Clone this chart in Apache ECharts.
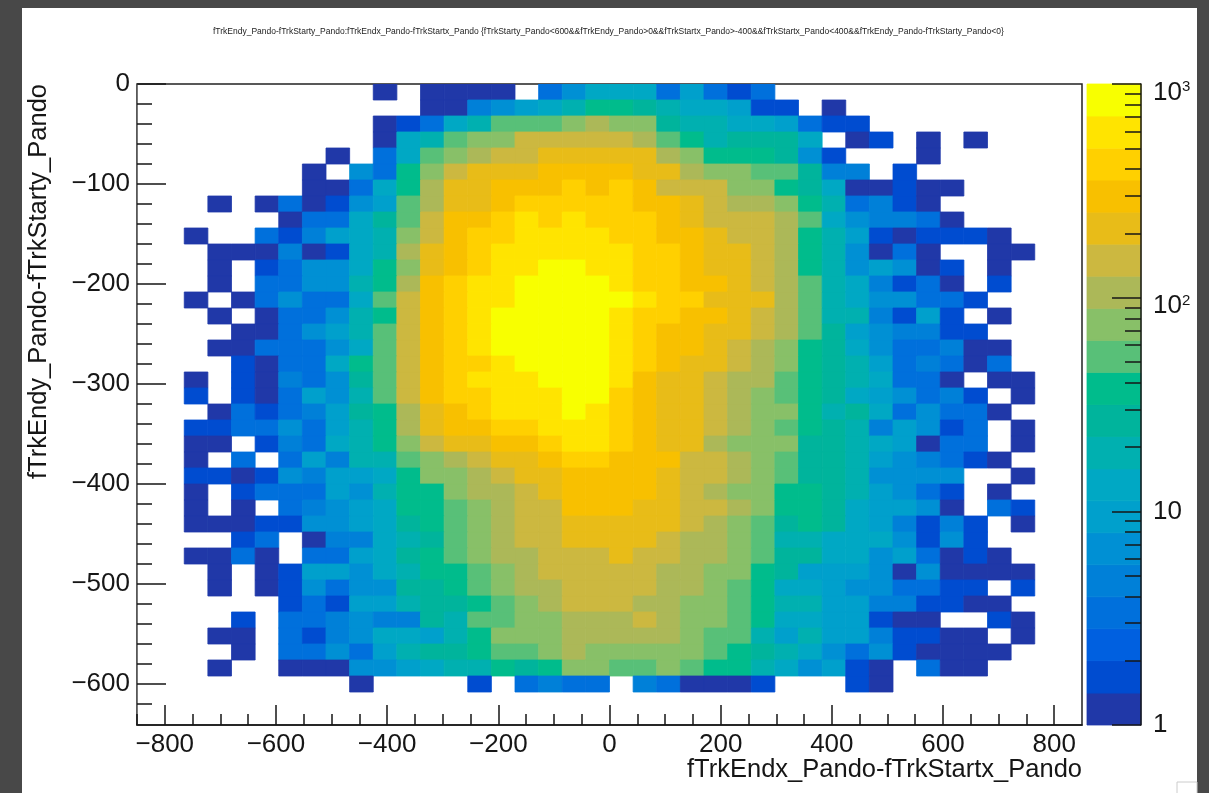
<!DOCTYPE html>
<html><head><meta charset="utf-8">
<style>html,body{margin:0;padding:0;background:#484848}#c{width:1209px;height:793px;filter:blur(0.5px)}</style>
<script src="https://cdn.jsdelivr.net/npm/echarts@6/dist/echarts.min.js"></script>
</head><body><div id="c"></div>
<script>
const chartTitle = "fTrkEndy_Pando-fTrkStarty_Pando:fTrkEndx_Pando-fTrkStartx_Pando {fTrkStarty_Pando<600&&fTrkEndy_Pando>0&&fTrkStartx_Pando>-400&&fTrkStartx_Pando<400&&fTrkEndy_Pando-fTrkStarty_Pando<0}";
const xTitle = "fTrkEndx_Pando-fTrkStartx_Pando";
const yTitle = "fTrkEndy_Pando-fTrkStarty_Pando";
const xMajor = [-800,-600,-400,-200,0,200,400,600,800];
const xMinor = [-850,-750,-700,-650,-550,-500,-450,-350,-300,-250,-150,-100,-50,50,100,150,250,300,350,450,500,550,650,700,750];
const yMajor = [0,-100,-200,-300,-400,-500,-600];
const yMinor = [-20,-40,-60,-80,-120,-140,-160,-180,-220,-240,-260,-280,-320,-340,-360,-380,-420,-440,-460,-480,-520,-540,-560,-580,-620];
const zMajor = [1,10,100,1000];
const zMinor = [2,3,4,5,6,7,8,9,20,30,40,50,60,70,80,90,200,300,400,500,600,700,800,900];
const contourEdges = [1,1.41,2,2.82,3.98,5.62,7.94,11.2,15.8,22.4,31.6,44.7,63.1,89.1,126,178,251,355,501,708,1000];
const palette = ['#2038a8','#004cd0','#0060e0','#0070dc','#0080d8','#0090d4','#00a0cc','#00a8c4','#00b0b0','#00b49c','#00bc8c','#58c078','#88c068','#acb858','#ccb840','#e8bc18','#f8c000','#ffd000','#ffe400','#f8ff00'];
const xFirstEdge = -850, xBinWidth = 42.5, yBinHeight = 16;

const row00=[0,0,0,0,0,0,0,0,0,0,1,0,1,1,1,1,0,3,7,13,13,13,3,9,3,1.7,3,0,0,0,0,0,0,0,0,0,0,0,0,0];
const row01=[0,0,0,0,0,0,0,0,0,0,0,0,1,1,5,7,9,13,19,38,38,27,19,13,13,9,1.7,1.7,0,1,0,0,0,0,0,0,0,0,0,0];
const row02=[0,0,0,0,0,0,0,0,0,0,1,1.7,3,13,19,53,53,53,75,106,75,75,27,19,19,13,13,9,3,1.7,1.7,0,0,0,0,0,0,0,0,0];
const row03=[0,0,0,0,0,0,0,0,0,0,1,13,19,53,75,75,150,150,150,150,150,106,53,38,19,27,27,27,13,0,1,1.7,0,1,0,1,0,0,0,0];
const row04=[0,0,0,0,0,0,0,0,1,0,3,13,53,75,106,150,150,211,211,211,211,211,106,75,38,38,38,27,7,1.7,0,0,0,1,0,0,0,0,0,0];
const row05=[0,0,0,0,0,0,0,1,0,7,3,38,75,150,211,211,211,299,299,299,299,211,211,106,75,75,53,53,27,5,5,0,1.7,0,0,0,0,0,0,0];
const row06=[0,0,0,0,0,0,0,1,1,3,13,38,106,211,211,299,299,299,422,299,422,299,150,150,150,75,75,38,27,13,1,1,1.7,1,1,0,0,0,0,0];
const row07=[0,0,0,1,0,1,3,1,1.7,7,9,53,106,211,211,299,422,422,422,422,422,299,299,211,150,106,106,75,38,19,3,5,1.7,1,0,0,0,0,0,0];
const row08=[0,0,0,0,0,0,1,3,3,13,27,53,150,299,299,422,596,422,596,422,422,422,299,211,150,150,150,106,53,13,7,5,5,3,1,0,0,0,0,0];
const row09=[0,0,1,0,0,3,1.7,5,9,13,19,75,150,299,422,422,596,596,596,596,422,422,299,299,211,150,150,106,38,19,9,1.7,1,1.7,1.7,1.7,1,0,0,0];
const row10=[0,0,0,1,1,1,5,1,1.7,13,19,106,211,299,422,596,596,596,596,596,596,422,422,299,211,211,150,106,38,19,7,1,3,1,0,0,1,1,0,0];
const row11=[0,0,0,1,0,1.7,3,7,7,13,38,75,211,299,422,596,596,840,840,596,596,422,422,299,211,211,150,106,38,19,7,9,7,1,1.7,0,1,0,0,0];
const row12=[0,0,0,1,0,3,3,7,7,19,38,106,299,422,596,596,840,840,840,840,596,422,422,299,299,211,150,106,53,19,13,5,1.7,3,1,0,1.7,0,0,0];
const row13=[0,0,1,0,1,3,7,3,3,13,53,150,299,422,596,596,840,840,840,840,840,596,422,422,211,211,211,106,53,19,13,7,7,3,3,1.7,0,0,0,0];
const row14=[0,0,0,1,0,1,3,3,7,19,38,150,299,422,596,840,840,840,840,840,596,422,422,299,299,211,150,106,53,19,19,5,1.7,9,1.7,0,1,0,0,0];
const row15=[0,0,0,0,1,1,3,7,9,19,53,150,299,422,596,840,840,840,840,840,596,422,299,299,211,211,150,106,53,27,9,7,5,5,1.7,1.7,0,0,0,0];
const row16=[0,0,0,1,1,3,3,3,7,13,53,150,299,422,596,840,840,840,840,840,596,422,299,299,211,150,106,75,38,27,13,7,3,3,5,1,1,0,0,0];
const row17=[0,0,0,0,1.7,1,3,3,13,38,53,150,299,422,422,596,840,840,840,840,596,422,299,211,211,150,106,75,38,27,19,9,3,5,3,1,3,0,0,0];
const row18=[0,0,1,0,1.7,1,5,3,7,27,53,150,299,422,596,596,596,840,840,840,596,299,211,211,150,106,106,53,38,27,19,13,3,3,1,0,1,1,0,0];
const row19=[0,0,1.7,0,1.7,1,3,9,7,19,53,150,299,422,422,596,596,596,840,840,422,299,211,211,150,106,75,53,38,27,13,9,7,3,5,1.7,0,1,0,0];
const row20=[0,0,0,1,3,1.7,3,5,9,27,38,106,211,299,422,596,596,596,840,596,422,299,211,211,150,106,75,75,38,19,27,13,3,7,3,3,1,0,0,0];
const row21=[0,0,1.7,1.7,3,3,7,3,9,19,38,106,211,299,299,422,422,596,596,596,422,299,211,211,150,106,75,53,38,27,19,5,9,7,1.7,3,0,1,0,0];
const row22=[0,0,1,1,0,1.7,5,3,13,19,38,75,150,211,211,299,299,422,596,596,422,299,211,211,106,75,75,75,27,27,19,13,9,1,3,3,0,1,0,0];
const row23=[0,0,1,0,3,0,3,9,5,19,19,53,75,106,150,211,211,299,422,422,299,299,299,150,150,106,75,53,27,27,19,9,7,5,3,1.7,1,0,0,0];
const row24=[0,0,1.7,1.7,1,1.7,7,5,9,9,13,38,75,75,106,150,211,211,299,299,299,299,211,150,150,106,75,53,27,27,19,7,7,7,7,0,0,1,0,0];
const row25=[0,0,1,0,1.7,3,3,3,9,7,19,38,38,75,106,106,150,211,299,299,299,299,211,150,106,75,75,38,38,27,19,9,7,3,1.7,0,1,0,0,0];
const row26=[0,0,1,0,1,0,3,5,7,9,13,38,38,53,75,106,150,150,299,299,299,211,211,150,150,106,75,38,38,27,13,9,9,7,1,0,3,1.7,0,0];
const row27=[0,0,1,1,1,1.7,1.7,7,7,9,13,27,38,53,75,106,150,150,211,211,211,211,211,150,106,75,53,27,38,27,13,9,5,1.7,5,1.7,0,1,0,0];
const row28=[0,0,0,0,1.7,3,0,1,5,5,13,19,27,53,75,106,150,150,211,211,211,211,150,106,106,75,53,19,19,13,13,13,7,1.7,7,1.7,0,0,0,0];
const row29=[0,0,1,1,3,1,0,3,3,9,13,27,38,53,75,106,106,150,150,150,211,150,150,106,106,75,53,27,27,13,13,7,9,3,1,1.7,1,0,0,0];
const row30=[0,0,0,1,0,1,1.7,9,9,7,13,19,38,38,53,75,106,150,150,150,150,150,106,106,75,75,38,27,9,9,9,7,1,7,1,1,1,1,0,0];
const row31=[0,0,0,1,0,1,1.7,7,3,7,7,27,27,38,53,75,106,106,150,150,150,150,106,106,75,53,38,13,13,9,7,7,3,3,1.7,1.7,0,1.7,0,0];
const row32=[0,0,0,0,0,0,1.7,3,1.7,9,9,19,27,27,38,53,75,106,150,150,150,106,106,75,75,53,38,19,19,9,9,5,5,1.7,1.7,1,1,0,0,0];
const row33=[0,0,0,0,1.7,0,3,3,5,7,5,5,27,19,53,53,75,75,106,106,106,150,106,75,75,53,38,13,13,9,9,1.7,1,1,0,0,1.7,1,0,0];
const row34=[0,0,0,1,1,0,3,1.7,5,7,13,13,9,19,38,75,75,75,106,106,106,106,106,75,53,53,19,9,19,9,9,5,1.7,1.7,1,1,0,1,0,0];
const row35=[0,0,0,0,1,0,3,3,7,3,9,19,27,27,38,53,53,75,106,75,75,75,75,75,53,38,27,19,13,7,3,7,1.7,1,1,1,1,0,0,0];
const row36=[0,0,0,1,0,0,1,1,1,7,7,9,13,19,19,38,27,38,75,75,53,53,75,53,38,38,19,13,7,9,1.7,1,0,3,1,1,0,0,0,0];
const row37=[0,0,0,0,0,0,0,0,0,1,0,0,0,0,1.7,0,3,5,3,3,0,5,3,1,1,1,1.7,0,0,0,1.7,1,0,0,0,0,0,0,0,0];
const rows=[row00,row01,row02,row03,row04,row05,row06,row07,row08,row09,row10,row11,row12,row13,row14,row15,row16,row17,row18,row19,row20,row21,row22,row23,row24,row25,row26,row27,row28,row29,row30,row31,row32,row33,row34,row35,row36,row37];

function bandOf(v){ for(let i=palette.length-1;i>=0;i--){ if(v>=contourEdges[i]) return i; } return 0; }
const cells=[];
rows.forEach((r,ri)=>r.forEach((v,ci)=>{ if(v>0) cells.push([xFirstEdge+ci*xBinWidth, xFirstEdge+(ci+1)*xBinWidth, -ri*yBinHeight, -(ri+1)*yBinHeight, v]); }));
const barCells = palette.map((c,i)=>[0,1,contourEdges[i],contourEdges[i+1],i]);

const INK='#161616', FONT='"Liberation Sans",Arial,sans-serif';
const lbl={fontFamily:FONT,fontSize:26,color:INK};
const minus=v=>String(v).replace('-','\u2212');
const rectItem=(params,api,fill)=>{
  const p0=api.coord([api.value(0),api.value(2)]), p1=api.coord([api.value(1),api.value(3)]);
  return {type:'rect',shape:{x:Math.min(p0[0],p1[0]),y:Math.min(p0[1],p1[1]),width:Math.abs(p1[0]-p0[0]),height:Math.abs(p1[1]-p0[1])},
    style:{fill:fill,stroke:fill,lineWidth:0.8}};
};
const chart=echarts.init(document.getElementById('c'),null,{renderer:'canvas'});
chart.setOption({
  animation:false,
  backgroundColor:'#484848',
  title:{text:chartTitle,left:208,top:22,textStyle:{fontFamily:FONT,fontSize:8.5,fontWeight:'normal',color:'#222'}},
  grid:[
    {left:137,top:84,width:945,height:641,show:true,backgroundColor:'#fff',borderColor:'#222',borderWidth:1.5},
    {left:1087,top:84,width:54,height:641,show:false}
  ],
  xAxis:[
    {type:'value',gridIndex:0,z:5,min:-850,max:850,position:'bottom',splitLine:{show:false},
     axisLine:{show:true,onZero:false,lineStyle:{color:INK,width:1.5}},
     axisTick:{show:true,inside:true,length:20,lineStyle:{color:INK,width:1.5},customValues:xMajor},
     axisLabel:{show:true,margin:7,customValues:xMajor,formatter:minus,...lbl}},
    {type:'value',gridIndex:0,z:5,min:-850,max:850,position:'bottom',splitLine:{show:false},
     axisLine:{show:false,onZero:false},
     axisTick:{show:true,inside:true,length:11,lineStyle:{color:INK,width:1.5},customValues:xMinor},
     axisLabel:{show:false}},
    {type:'value',gridIndex:1,min:0,max:1,show:false}
  ],
  yAxis:[
    {type:'value',gridIndex:0,z:5,min:-641,max:0,position:'left',splitLine:{show:false},
     axisLine:{show:true,onZero:false,lineStyle:{color:'#777',width:1}},
     axisTick:{show:true,inside:true,length:29,lineStyle:{color:INK,width:1.5},customValues:yMajor},
     axisLabel:{show:true,margin:7,customValues:yMajor,formatter:minus,...lbl}},
    {type:'value',gridIndex:0,z:5,min:-641,max:0,position:'left',splitLine:{show:false},
     axisLine:{show:false,onZero:false},
     axisTick:{show:true,inside:true,length:15,lineStyle:{color:INK,width:1.5},customValues:yMinor},
     axisLabel:{show:false}},
    {type:'log',logBase:10,gridIndex:1,z:5,min:1,max:1000,position:'right',splitLine:{show:false},
     axisLine:{show:true,onZero:false,lineStyle:{color:INK,width:1.5}},
     axisTick:{show:true,inside:true,length:29,lineStyle:{color:INK,width:1.5},customValues:zMajor},
     axisLabel:{show:true,margin:12,customValues:zMajor,...lbl,
       formatter:v=>{v=Number(v); return v===1?'{b|1}':v===10?'{b|10}':v===100?'{d|10}{s|2}':'{d|10}{s|3}';},
       rich:{b:{fontFamily:FONT,fontSize:26,color:INK},
             d:{fontFamily:FONT,fontSize:26,color:INK,padding:[17,0,0,0],verticalAlign:'bottom'},
             s:{fontFamily:FONT,fontSize:15,color:INK,verticalAlign:'top',padding:[17,0,0,0]}}}},
    {type:'log',logBase:10,gridIndex:1,z:5,min:1,max:1000,position:'right',splitLine:{show:false},
     axisLine:{show:false,onZero:false},
     axisTick:{show:true,inside:true,length:16,lineStyle:{color:INK,width:1.5},customValues:zMinor},
     axisLabel:{show:false}}
  ],
  series:[
    {type:'custom',xAxisIndex:0,yAxisIndex:0,clip:true,z:1,data:cells,encode:{x:[0,1],y:[2,3]},
     renderItem:(params,api)=>rectItem(params,api,palette[bandOf(api.value(4))])},
    {type:'custom',xAxisIndex:2,yAxisIndex:2,clip:false,z:1,data:barCells,encode:{x:[0,1],y:[2,3]},
     renderItem:(params,api)=>rectItem(params,api,palette[api.value(4)])}
  ],
  graphic:[
    {type:'rect',z:-10,shape:{x:22,y:8,width:1175,height:785},style:{fill:'#fff'}},
    {type:'rect',z:-9,shape:{x:1177,y:782,width:20,height:12},style:{fill:'#fff',stroke:'#ccc',lineWidth:1}},
    {type:'text',z:50,x:1082,y:770,style:{text:xTitle,align:'right',verticalAlign:'middle',font:'25.5px '+FONT,fill:INK}},
    {type:'text',z:50,x:39,y:84,rotation:Math.PI/2,style:{text:yTitle,align:'right',verticalAlign:'middle',font:'25.5px '+FONT,fill:INK}}
  ]
});
</script></body></html>
